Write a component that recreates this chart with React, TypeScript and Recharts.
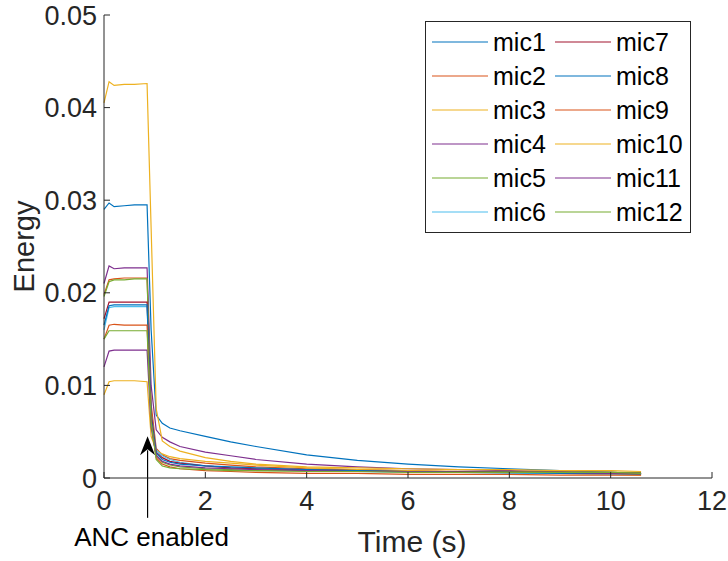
import React from "react";
import {
  LineChart,
  Line,
  XAxis,
  YAxis,
  Legend,
  ReferenceLine,
} from "recharts";

// time axis (s)
const time = [0, 0.1, 0.2, 0.4, 0.6, 0.85, 0.93, 1.03, 1.15, 1.3, 1.5, 2, 2.5, 3, 4, 5, 6, 7, 8, 9, 10, 10.6];

const mic1 = [0.029, 0.0297, 0.0293, 0.0294, 0.0295, 0.0295, 0.016, 0.0068, 0.0059, 0.0054, 0.0051, 0.0045, 0.0039, 0.0034, 0.0025, 0.0019, 0.0015, 0.0012, 0.001, 0.0008, 0.0006, 0.0005];
const mic2 = [0.0198, 0.0214, 0.0215, 0.0216, 0.0216, 0.0216, 0.008, 0.0032, 0.0025, 0.0021, 0.0019, 0.0016, 0.0014, 0.0012, 0.001, 0.0009, 0.0008, 0.0007, 0.0007, 0.0006, 0.0006, 0.0005];
const mic3 = [0.009, 0.0104, 0.0105, 0.0105, 0.0105, 0.0104, 0.0045, 0.003, 0.0026, 0.0023, 0.0021, 0.0018, 0.0016, 0.0014, 0.0011, 0.0009, 0.0008, 0.0007, 0.0006, 0.0005, 0.0004, 0.0003];
const mic4 = [0.021, 0.0229, 0.0226, 0.0227, 0.0227, 0.0227, 0.01, 0.0052, 0.0044, 0.0039, 0.0034, 0.0028, 0.0024, 0.002, 0.0015, 0.0012, 0.001, 0.0009, 0.0008, 0.0007, 0.0006, 0.0005];
const mic5 = [0.0196, 0.0212, 0.0214, 0.0214, 0.0215, 0.0215, 0.007, 0.0025, 0.0017, 0.0014, 0.0012, 0.001, 0.0009, 0.0008, 0.0008, 0.0007, 0.0007, 0.0007, 0.0007, 0.0006, 0.0006, 0.0006];
const mic6 = [0.016, 0.0184, 0.0185, 0.0185, 0.0185, 0.0185, 0.007, 0.003, 0.0024, 0.002, 0.0017, 0.0013, 0.0011, 0.001, 0.0008, 0.0007, 0.0006, 0.0006, 0.0005, 0.0005, 0.0004, 0.0004];
const mic7 = [0.0172, 0.019, 0.019, 0.019, 0.019, 0.019, 0.007, 0.0028, 0.0022, 0.0018, 0.0016, 0.0013, 0.0011, 0.001, 0.0009, 0.0008, 0.0007, 0.0007, 0.0006, 0.0006, 0.0005, 0.0005];
const mic8 = [0.0165, 0.0186, 0.0187, 0.0187, 0.0187, 0.0187, 0.0065, 0.0027, 0.002, 0.0017, 0.0015, 0.0013, 0.0012, 0.0011, 0.0009, 0.0008, 0.0007, 0.0006, 0.0006, 0.0005, 0.0005, 0.0004];
const mic9 = [0.015, 0.0165, 0.0166, 0.0165, 0.0165, 0.0165, 0.006, 0.0022, 0.0015, 0.0012, 0.001, 0.0008, 0.0007, 0.0006, 0.0005, 0.0005, 0.0004, 0.0004, 0.0004, 0.0003, 0.0003, 0.0003];
const mic10 = [0.0405, 0.0428, 0.0424, 0.0425, 0.0425, 0.0426, 0.027, 0.0075, 0.004, 0.0034, 0.0029, 0.0022, 0.0018, 0.0015, 0.0012, 0.0011, 0.001, 0.0009, 0.0009, 0.0008, 0.0008, 0.0007];
const mic11 = [0.012, 0.0137, 0.0138, 0.0138, 0.0138, 0.0138, 0.0055, 0.0024, 0.0018, 0.0015, 0.0013, 0.0011, 0.001, 0.0009, 0.0008, 0.0007, 0.0007, 0.0006, 0.0006, 0.0006, 0.0005, 0.0005];
const mic12 = [0.015, 0.0159, 0.0159, 0.0159, 0.0159, 0.0159, 0.006, 0.002, 0.0013, 0.0011, 0.001, 0.0009, 0.0008, 0.0008, 0.0007, 0.0007, 0.0006, 0.0006, 0.0006, 0.0006, 0.0006, 0.0005];

const xTicks = [0, 2, 4, 6, 8, 10, 12];
const yTicks = [0, 0.01, 0.02, 0.03, 0.04, 0.05];

const seriesNames = ["mic1", "mic2", "mic3", "mic4", "mic5", "mic6", "mic7", "mic8", "mic9", "mic10", "mic11", "mic12"];
const seriesValues = [mic1, mic2, mic3, mic4, mic5, mic6, mic7, mic8, mic9, mic10, mic11, mic12];
// matlab default colour order
const palette = ["#0072BD", "#D95319", "#EDB120", "#7E2F8E", "#77AC30", "#4DBEEE", "#A2142F"];

const data = time.map((t, i) => {
  const row: Record<string, number> = { t };
  seriesNames.forEach((name, k) => {
    row[name] = seriesValues[k][i];
  });
  return row;
});

const FONT = "'Liberation Sans', Arial, Helvetica, sans-serif";
const AXIS = "#262626";

const fmtY = (v: number) => (v === 0 ? "0" : v.toFixed(2));

const LegendBox = () => (
  <div
    style={{
      width: 264,
      height: 204,
      padding: "3px 0",
      border: `1px solid ${AXIS}`,
      background: "#fff",
      display: "grid",
      gridTemplateColumns: "123px 141px",
      gridTemplateRows: "repeat(6, 34px)",
      gridAutoFlow: "column",
      fontFamily: FONT,
      fontSize: 25,
      color: "#000",
    }}
  >
    {seriesNames.map((name, k) => (
      <div
        key={name}
        style={{ display: "flex", alignItems: "center", paddingLeft: 6, whiteSpace: "nowrap" }}
      >
        <svg width={56} height={4} style={{ marginRight: 5, flexShrink: 0 }}>
          <line x1={0} y1={2} x2={56} y2={2} stroke={palette[k % 7]} strokeWidth={1.2} />
        </svg>
        <span style={{ lineHeight: "34px" }}>{name}</span>
      </div>
    ))}
  </div>
);

const AncArrow = (props: any) => {
  const { x1, y1, x2, y2 } = props;
  return (
    <g>
      <line x1={x1} y1={y1} x2={x2} y2={y2 + 14} stroke="#000" strokeWidth={1.2} />
      <polygon
        points={`${x2},${y2} ${x2 - 7.5},${y2 + 19} ${x2},${y2 + 13} ${x2 + 7.5},${y2 + 19}`}
        fill="#000"
      />
      <text x={x1 + 4} y={y1 + 28} textAnchor="middle" fontFamily={FONT} fontSize={26} fill="#000">
        ANC enabled
      </text>
    </g>
  );
};

export default function App() {
  return (
    <div style={{ position: "absolute", left: 0, top: 0, background: "#fff" }}>
      <LineChart
        width={728}
        height={561}
        data={data}
        margin={{ top: 15, right: 16, bottom: 0, left: 0 }}
      >
        <XAxis
          dataKey="t"
          type="number"
          domain={[0, 12]}
          ticks={xTicks}
          height={83}
          stroke={AXIS}
          tickSize={-6}
          tickMargin={19}
          tick={{ fill: AXIS, fontSize: 27, fontFamily: FONT }}
          label={{
            content: (p: any) => (
              <text
                x={p.viewBox.x + p.viewBox.width / 2 + 4}
                y={552}
                textAnchor="middle"
                fontFamily={FONT}
                fontSize={30}
                fill={AXIS}
              >
                Time (s)
              </text>
            ),
          }}
        />
        <XAxis
          xAxisId="top"
          orientation="top"
          type="number"
          domain={[0, 12]}
          ticks={xTicks}
          height={0}
          stroke={AXIS}
          tickSize={-6}
          tick={false}
        />
        <YAxis
          type="number"
          domain={[0, 0.05]}
          ticks={yTicks}
          width={104}
          stroke={AXIS}
          tickSize={-6}
          tickMargin={13}
          tickFormatter={fmtY}
          tick={{ fill: AXIS, fontSize: 27, fontFamily: FONT }}
          label={{
            content: (p: any) => {
              const cy = p.viewBox.y + p.viewBox.height / 2;
              return (
                <text
                  x={34}
                  y={cy}
                  transform={`rotate(-90, 34, ${cy})`}
                  textAnchor="middle"
                  fontFamily={FONT}
                  fontSize={29}
                  fill={AXIS}
                >
                  Energy
                </text>
              );
            },
          }}
        />
        <YAxis
          yAxisId="right"
          orientation="right"
          type="number"
          domain={[0, 0.05]}
          ticks={yTicks}
          width={0}
          stroke={AXIS}
          tickSize={-6}
          tick={false}
        />
        {seriesNames.map((name, k) => (
          <Line
            key={name}
            dataKey={name}
            type="linear"
            stroke={palette[k % 7]}
            strokeWidth={1.2}
            dot={false}
            isAnimationActive={false}
          />
        ))}
        <ReferenceLine
          segment={[
            { x: 0.86, y: -0.0043 },
            { x: 0.86, y: 0.0045 },
          ]}
          ifOverflow="visible"
          shape={AncArrow}
        />
        <Legend
          layout="vertical"
          align="center"
          verticalAlign="middle"
          wrapperStyle={{ left: 425, top: 21, width: 266, height: 212 }}
          content={() => <LegendBox />}
        />
      </LineChart>
    </div>
  );
}
